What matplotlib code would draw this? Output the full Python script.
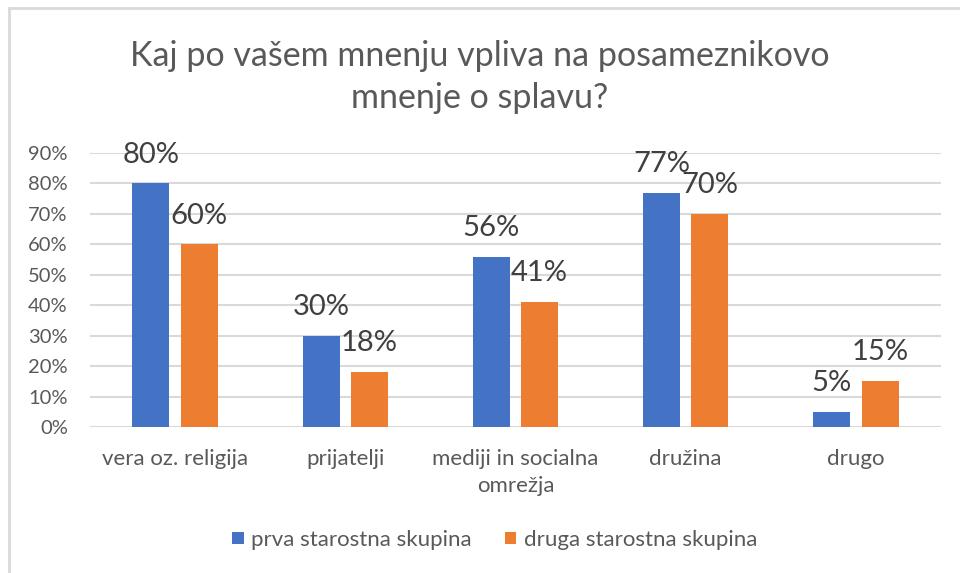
import matplotlib
matplotlib.use("Agg")
import matplotlib.pyplot as plt
import numpy as np
from matplotlib.lines import Line2D

plt.rcParams["font.family"] = ["Lato", "DejaVu Sans"]

categories = ["vera oz. religija", "prijatelji", "mediji in socialna\nomrežja", "družina", "drugo"]
series_names = ["prva starostna skupina", "druga starostna skupina"]
prva = [80, 30, 56, 77, 5]
druga = [60, 18, 41, 70, 15]
yticks = [0, 10, 20, 30, 40, 50, 60, 70, 80, 90]
title = "Kaj po vašem mnenju vpliva na posameznikovo\nmnenje o splavu?"

text_color = "#595959"
grid_color = "#d9d9d9"
colors = ["#4472C4", "#ED7D31"]

fig = plt.figure(figsize=(9.6, 5.73), dpi=100)
ax = fig.add_axes([90 / 960, 1 - 427 / 573, 851 / 960, 274 / 573])

x = np.arange(len(categories))
width = 0.218
offset = 0.142
for vals, shift, color, name in zip([prva, druga], [-offset, offset], colors, series_names):
    bars = ax.bar(x + shift, vals, width, color=color, label=name, zorder=3)
    for b, v in zip(bars, vals):
        ax.annotate(f"{v}%", (b.get_x() + b.get_width() / 2, v),
                    xytext=(0, 15), textcoords="offset points",
                    ha="center", va="baseline", fontsize=21, color="#404040", zorder=4)

ax.set_xlim(-0.5, len(categories) - 0.5)
ax.set_ylim(0, 90)
ax.set_yticks(yticks)
ax.set_yticklabels([f"{t}%" for t in yticks])
ax.set_xticks(x)
ax.set_xticklabels(categories, fontsize=16, linespacing=1.4)
ax.tick_params(axis="both", length=0, colors=text_color)
ax.tick_params(axis="y", pad=16, labelsize=14.5)
ax.tick_params(axis="x", pad=16)
ax.yaxis.grid(True, color=grid_color, linewidth=1.5, zorder=0)
for s in ax.spines.values():
    s.set_visible(False)
ax.set_facecolor("none")

fig.text(0.5, 1 - 77 / 573, title, ha="center", va="center", fontsize=24.5,
         color=text_color, linespacing=1.4)

ax.legend(loc="center", bbox_to_anchor=(495 / 960, 1 - 540 / 573),
          bbox_transform=fig.transFigure, ncol=2, frameon=False,
          fontsize=16, labelcolor=text_color, handlelength=0.5,
          handleheight=0.5, handletextpad=0.35, columnspacing=1.5)

# chart border (top and left edges visible in the screenshot)
fig.add_artist(Line2D([9 / 960, 9 / 960], [0, 1 - 8 / 573], transform=fig.transFigure,
                      color=grid_color, linewidth=2))
fig.add_artist(Line2D([9 / 960, 1], [1 - 8 / 573, 1 - 8 / 573], transform=fig.transFigure,
                      color=grid_color, linewidth=2))

fig.savefig("out.png", dpi=100)
